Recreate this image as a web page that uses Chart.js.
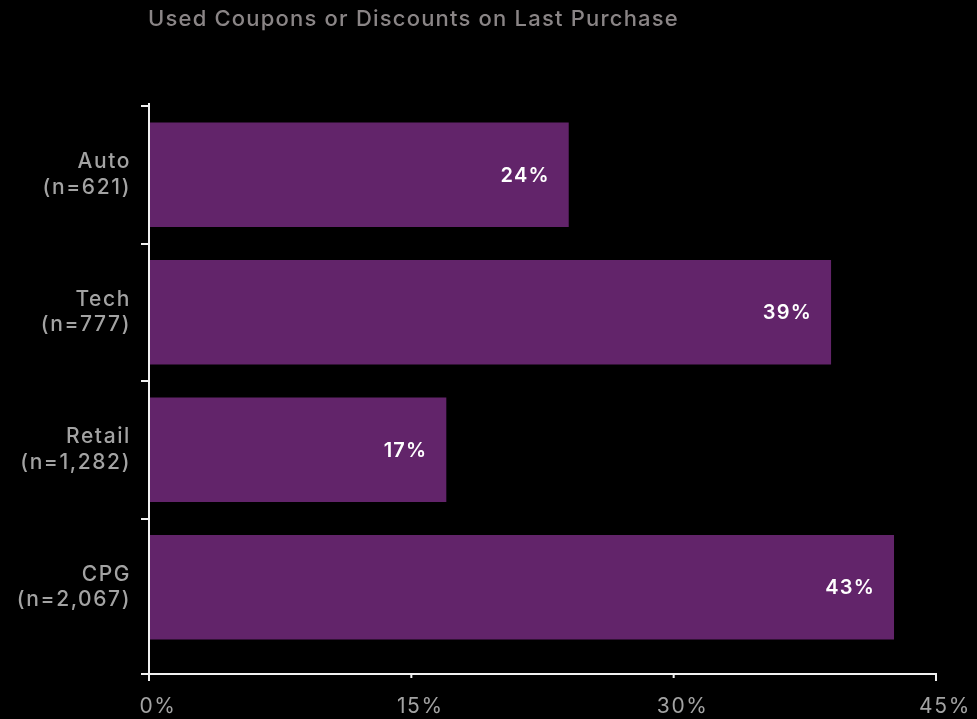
<!DOCTYPE html>
<html>
<head>
<meta charset="utf-8">
<script src="https://cdn.jsdelivr.net/npm/chart.js@4"></script>
<style>
  html, body { margin: 0; padding: 0; background: #000; }
  #wrap { width: 977px; height: 719px; }
</style>
</head>
<body>
<div id="wrap"><canvas id="myChart" width="977" height="719"></canvas></div>
<script>
const title = "Used Coupons or Discounts on Last Purchase";
const categories = [
  ["Auto", "(n=621)"],
  ["Tech", "(n=777)"],
  ["Retail", "(n=1,282)"],
  ["CPG", "(n=2,067)"],
];
const values = [24, 39, 17, 42.6];
const xTicks = [0, 15, 30, 45];

const fontFamily = 'Inter, "DejaVu Sans", sans-serif';
const lineColor = "#f0f0f0";
const spacing = "1.6px"; // the original font is wider than Inter

// value labels inside the bars, x axis line drawn a bit below the last bar
const extras = {
  id: "extras",
  beforeLayout(chart) {
    chart.ctx.letterSpacing = spacing;
  },
  beforeDraw(chart) {
    chart.ctx.letterSpacing = spacing;
  },
  afterDatasetsDraw(chart) {
    const ctx = chart.ctx;
    const meta = chart.getDatasetMeta(0);
    ctx.save();
    ctx.letterSpacing = "1.2px";
    ctx.fillStyle = "#ffffff";
    ctx.font = "600 20px " + fontFamily;
    ctx.textAlign = "right";
    ctx.textBaseline = "middle";
    meta.data.forEach((bar, i) => {
      ctx.fillText(Math.round(values[i]) + "%", bar.x - 19, bar.y + 1);
    });
    ctx.restore();
  },
  afterDraw(chart) {
    const { ctx, chartArea } = chart;
    const x = chart.scales.x;
    const yLine = chartArea.bottom + 18;
    ctx.save();
    ctx.strokeStyle = lineColor;
    ctx.lineWidth = 2;
    ctx.beginPath();
    ctx.moveTo(chartArea.left, chartArea.top - 3);
    ctx.lineTo(chartArea.left, yLine + 7);
    ctx.moveTo(chartArea.left - 8, yLine);
    ctx.lineTo(x.getPixelForValue(45) + 1, yLine);
    xTicks.slice(1).forEach((t, i) => {
      const px = x.getPixelForValue(t);
      ctx.moveTo(px, yLine);
      ctx.lineTo(px, yLine + (i === xTicks.length - 2 ? 7 : 4));
    });
    ctx.stroke();
    // title
    ctx.letterSpacing = "1.2px";
    ctx.fillStyle = "#8a8586";
    ctx.font = "500 22px " + fontFamily;
    ctx.textAlign = "left";
    ctx.textBaseline = "middle";
    ctx.fillText(title, chartArea.left - 1, 19);
    ctx.restore();
  },
};

const ctx = document.getElementById("myChart").getContext("2d");

const chart = new Chart(ctx, {
  type: "bar",
  data: {
    labels: categories,
    datasets: [
      {
        label: title,
        data: values,
        backgroundColor: "#62246a",
        borderWidth: 0,
        barPercentage: 0.76,
        categoryPercentage: 1,
      },
    ],
  },
  options: {
    indexAxis: "y",
    responsive: false,
    animation: false,
    layout: {
      padding: { top: 106, right: 41, bottom: 0, left: 0 },
    },
    plugins: {
      legend: { display: false },
      tooltip: { enabled: false },
    },
    scales: {
      x: {
        min: 0,
        max: 45,
        afterBuildTicks: (scale) => {
          scale.ticks = xTicks.map((v) => ({ value: v }));
        },
        afterFit: (scale) => {
          scale.height = 63;
        },
        // tick marks are drawn by the plugin; tickLength only spaces the labels
        grid: { display: false, drawTicks: true, tickLength: 38 },
        border: { display: false },
        ticks: {
          color: "#a3a3a3",
          padding: 0,
          labelOffset: 9,
          maxRotation: 0,
          font: { family: fontFamily, size: 21 },
          callback: (v) => v + "%",
        },
      },
      y: {
        afterFit: (scale) => {
          scale.width = 149;
        },
        grid: {
          offset: true,
          drawOnChartArea: false,
          drawTicks: true,
          tickLength: 8,
          lineWidth: 2,
          color: (c) => (c.type === "tick" ? lineColor : "transparent"),
        },
        border: { display: false },
        ticks: {
          color: "#a3a3a3",
          padding: 10,
          font: { family: fontFamily, size: 21, weight: "500", lineHeight: 1.2 },
        },
      },
    },
  },
  plugins: [extras],
});
</script>
</body>
</html>
